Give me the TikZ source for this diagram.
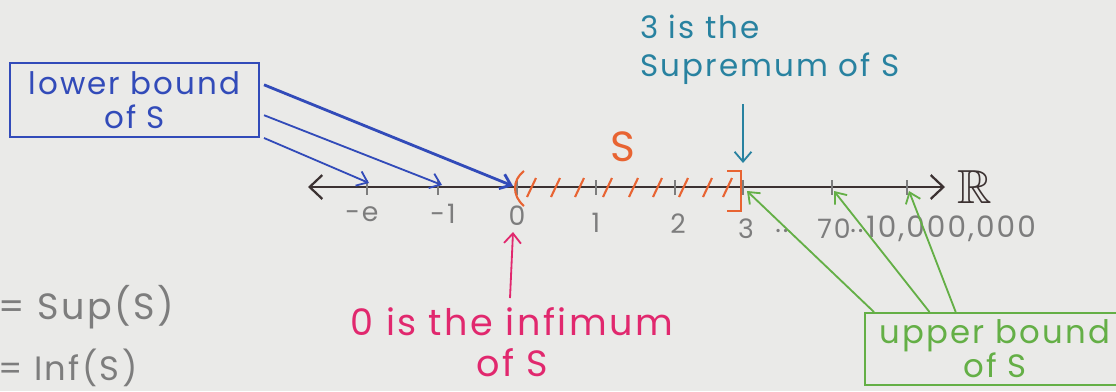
\documentclass[tikz,border=0pt]{standalone}
\usepackage{amssymb}
\usepackage{fontspec}
\setmainfont{Poppins}[LetterSpace=7.0]
\usetikzlibrary{arrows.meta,positioning,calc}
\definecolor{paper}{RGB}{234,234,232}
\definecolor{inkblack}{RGB}{60,50,50}
\definecolor{inkgray}{RGB}{125,125,125}
\definecolor{inkblue}{RGB}{50,75,185}
\definecolor{inkorange}{RGB}{232,100,50}
\definecolor{inkteal}{RGB}{40,130,160}
\definecolor{inkpink}{RGB}{225,40,110}
\definecolor{inkgreen}{RGB}{100,175,70}

\begin{document}
\begin{tikzpicture}[
    x=0.025cm, y=-0.025cm,
    hand/.style={inner sep=0pt, align=center, font=\fontsize{22}{24}\selectfont},
    numlbl/.style={inner sep=0pt, text=inkgray, font=\fontsize{19}{22}\selectfont},
    lowbox/.style={rectangle, draw=inkblue, line width=1.4pt, text=inkblue, hand,
                minimum width=6.225cm, minimum height=1.85cm},
    upbox/.style={rectangle, draw=inkgreen, line width=1.4pt, text=inkgreen, hand,
                font=\fontsize{23}{24}\selectfont, minimum width=6.5cm, minimum height=1.8cm},
    tick/.style={inkgray, line width=1pt},
    barrow/.style={-{Straight Barb[length=7pt,width=11pt]}, line width=1.3pt, inkblue},
    garrow/.style={-{Straight Barb[length=7pt,width=11pt]}, line width=1.3pt, inkgreen},
    axis/.style={{Straight Barb[length=9pt,width=17pt]}-{Straight Barb[length=9pt,width=17pt]},
                line width=1.6pt, inkblack}
]
\fill[paper] (0,0) rectangle (1116,391);
\useasboundingbox (0,0) rectangle (1116,391);

% the real line
\coordinate (lend) at (308,187);
\coordinate (rend) at (945,187);
\draw[axis] (lend) -- (rend);
\node[right=9pt of rend, inner sep=0pt, inkblack, font=\fontsize{34}{36}\selectfont] (reals) {$\mathbb{R}$};

\foreach \name/\x in {me/367, mone/438, zero/517, one/596, two/675, three/743, seventy/832, big/907}{
    \coordinate (t\name) at (\x,187);
    \draw[tick] (\x,180) -- (\x,195);
}

\node[numlbl] (lme) at (362,214) {-e};
\node[numlbl] (lmone) at (443,214) {-1};
\node[numlbl] (lzero) at (517,216) {0};
\node[numlbl] (lone) at (596,223) {1};
\node[numlbl] (ltwo) at (678,224) {2};
\node[numlbl] (lthree) at (746,229) {3};
\node[numlbl] (ldotsa) at (782,231) {..};
\node[numlbl] (lseventy) at (834,229) {70};
\node[numlbl] (ldotsb) at (857,231) {..};
\node[numlbl, anchor=west, font=\fontsize{21}{22}\selectfont] (lbig) at (866,229) {10,000,000};

% the set S
\draw[inkorange, line width=1.5pt] (524,171) .. controls (512,180) and (512,196) .. (524,206);
\foreach \x in {532,556,580,608,634,658,684,708,728}{
    \draw[inkorange, line width=1.5pt] (\x-5,197) -- (\x+4,178);
}
\draw[inkorange, line width=1.5pt] (727,171) -- (741,171) -- (741,211) -- (727,211);
\node[hand, inkorange, font=\fontsize{30}{32}\selectfont] (setname) at (623,147) {S};

% lower bounds
\node[lowbox] (lower) at (134.5,100) {lower bound\\of S};
\draw[barrow, line width=2pt] ($(lower.north east)!0.3!(lower.south east)+(4,0)$) -- ($(tzero)+(-4,-1)$);
\draw[barrow] ($(lower.north east)!0.7!(lower.south east)+(4,0)$) -- ($(tmone)+(4,-2)$);
\draw[barrow] ($(lower.south east)+(4,0)$) -- ($(tme)+(2,-4)$);

% supremum
\node[hand, inkteal, align=left, anchor=west, font=\fontsize{22}{27}\selectfont] (supnote) at (640,50) {3 is the\\Supremum of S};
\coordinate (suptop) at (743,104);
\draw[-{Straight Barb[length=7pt,width=12pt]}, line width=1.3pt, inkteal] (suptop) -- ($(tthree)+(0,-24)$);

% infimum
\node[hand, inkpink, font=\fontsize{26}{29}\selectfont] (infnote) at (512,342) {0 is the infimum\\of S};
\coordinate (infstart) at (510,298);
\draw[-{Straight Barb[length=7pt,width=12pt]}, line width=1.3pt, inkpink] (infstart) -- ($(tzero)+(-4,45)$);

% upper bounds
\node[upbox] (upper) at (995,349) {upper bound\\of S};
\draw[garrow] ($(upper.north west)+(10,0)$) -- ($(tthree)+(4,4)$);
\draw[garrow] ($(upper.north west)!0.25!(upper.north east)$) -- ($(tseventy)+(2,4)$);
\draw[garrow] ($(upper.north west)!0.35!(upper.north east)$) -- ($(tbig)+(2,4)$);

% side notes
\node[hand, inkgray, anchor=west, font=\fontsize{26}{28}\selectfont] (supdef) at (-2,307) {= Sup(S)};
\node[hand, inkgray, anchor=west, font=\fontsize{24}{26}\selectfont] (infdef) at (-2,368) {= Inf(S)};
\end{tikzpicture}
\end{document}
